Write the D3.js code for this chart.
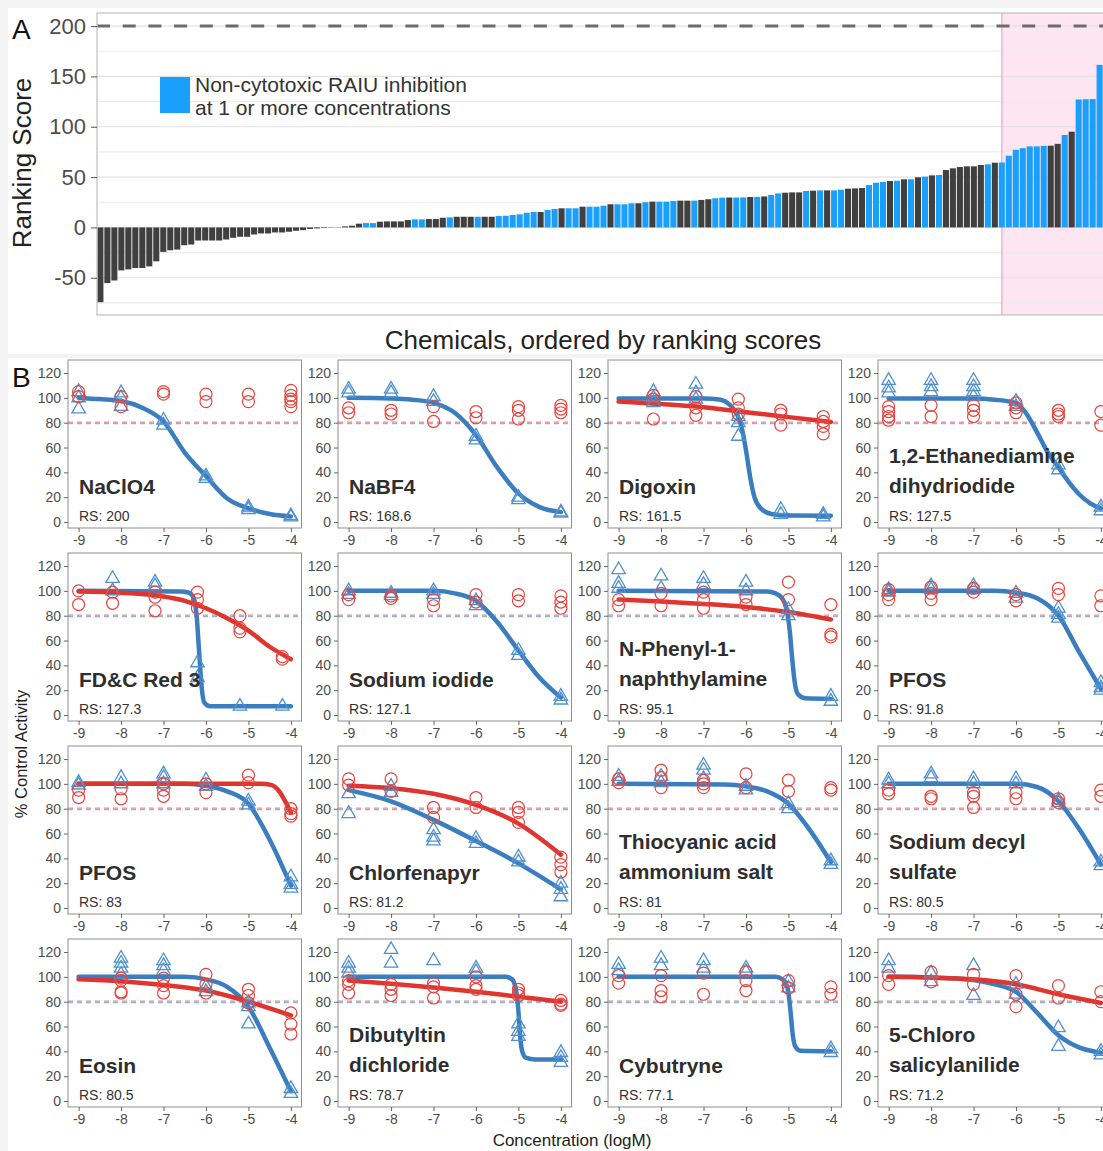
<!DOCTYPE html>
<html><head><meta charset="utf-8">
<script src="https://cdn.jsdelivr.net/npm/d3@7"></script>
<style>
html,body{margin:0;padding:0;background:#f3f3f3;}
svg{display:block;font-family:"Liberation Sans",Arial,sans-serif;}
</style></head><body>
<svg id="chart" width="1103" height="1151"></svg>
<script>
// ---------- Panel A data ----------
const barScores = [
  -74.3,-55.3,-52.7,-42.7,-41.7,-40.3,-40.3,-38.7,-33.7,-24.3,
  -22.7,-22,-17.7,-17,-13,-13,-13,-13,-12,-10.3,
  -9.3,-9.3,-7,-6,-6,-5,-5,-4.3,-3.3,-2.7,
  -1.5,-1,-0.6,-0.3,0.2,1,1.7,3.7,4.3,4.3,
  5.7,6,6,6,7.3,8,8,8.3,8.3,9.6,
  10,10.6,10.6,10.6,10.6,10.6,10.6,11.3,11.6,12.3,
  13,14.6,15.3,15.3,17.3,18.3,19,19,19,20.6,
  20.6,20.6,21.6,23,23,23,24,24,25,25.6,
  25.6,25.6,26.3,26.6,26.6,26.6,27.3,28,29,29.6,
  29.7,29.7,29.8,30.2,30.3,30.8,32.2,33.8,34.5,34.8,
  34.8,36.2,36.5,36.8,36.8,36.8,37.5,38.5,38.8,39.1,
  42.1,44.4,45.1,46.1,46.4,47.8,47.8,49.8,50.4,51.7,
  52.1,57,58.7,60,60.7,60.7,62,62.7,64.3,64.5,
  71.2,77.1,78.7,80.5,80.5,81,81.2,83,91.8,95.1,
  127.1,127.3,127.5,161.5,168.6,200
];
// 1 = non-cytotoxic RAIU inhibition at 1 or more concentrations
const barNonCytotoxic = [
  0,0,0,0,0,0,0,0,0,0,
  0,0,0,0,0,0,0,0,0,0,
  0,0,0,0,0,0,0,0,0,0,
  0,0,0,0,0,0,0,0,1,1,
  0,0,0,0,0,1,1,0,0,0,
  1,0,0,0,1,0,0,1,1,1,
  1,1,1,0,1,1,0,1,1,0,
  1,1,1,0,1,1,1,0,1,0,
  1,1,1,0,0,1,0,0,1,1,
  0,1,1,0,1,0,1,1,0,0,
  0,1,0,1,0,1,1,0,0,0,
  1,1,1,0,1,0,1,0,1,0,
  1,0,0,0,0,0,0,1,0,1,
  1,1,1,1,1,1,0,0,1,0,
  1,1,1,1,1,1
];
const scoreTicks = [-50, 0, 50, 100, 150, 200];
const scoreGrid = [-75,-50,-25,0,25,50,75,100,125,150,175,200];
const maxScoreLine = 200;
const highlightFromIndex = 129;
const legendLines = ["Non-cytotoxic RAIU inhibition", "at 1 or more concentrations"];

// ---------- Panel B data ----------
const panelNames = [
  ["NaClO4"], ["NaBF4"], ["Digoxin"], ["1,2-Ethanediamine","dihydriodide"],
  ["FD&C Red 3"], ["Sodium iodide"], ["N-Phenyl-1-","naphthylamine"], ["PFOS"],
  ["PFOS"], ["Chlorfenapyr"], ["Thiocyanic acid","ammonium salt"], ["Sodium decyl","sulfate"],
  ["Eosin"], ["Dibutyltin","dichloride"], ["Cybutryne"], ["5-Chloro","salicylanilide"]
];
const panelScores = ["200","168.6","161.5","127.5","127.3","127.1","95.1","91.8","83","81.2","81","80.5","80.5","78.7","77.1","71.2"];
const concTicks = [-9,-8,-7,-6,-5,-4];
const activityTicks = [0,20,40,60,80,100,120];
const thresholdValue = 80;

const raiuPoints = [
  [[-9,105],[-9,100],[-9,91],[-8,104],[-8,100],[-8,93],[-7,82],[-7,78],[-6,37],[-6,35],[-5,12],[-5,10],[-4,5],[-4,4]],
  [[-9,107],[-9,104],[-8,107],[-8,104],[-7,101],[-7,97],[-6,69],[-6,66],[-5,20],[-5,18],[-4,8],[-4,7]],
  [[-8.18,105],[-8.18,100],[-8.18,96],[-7.18,111],[-7.18,104],[-7.18,99],[-6.18,85],[-6.18,80],[-6.18,69],[-5.18,10],[-5.18,6],[-4.18,6],[-4.18,4]],
  [[-9,114],[-9,108],[-9,104],[-8,114],[-8,109],[-8,105],[-7,114],[-7,109],[-7,105],[-7,101],[-6,97],[-6,93],[-5,46],[-5,42],[-4,12],[-4,9]],
  [[-8.2,110],[-8.2,100],[-7.2,107],[-7.2,104],[-6.2,42],[-6.2,30],[-5.2,7],[-4.2,7]],
  [[-9,100],[-9,97],[-8,98],[-8,96],[-7,100],[-7,97],[-6,92],[-6,88],[-5,52],[-5,48],[-4,15],[-4,12]],
  [[-9,117],[-9,106],[-9,102],[-8,112],[-8,102],[-7,110],[-7,105],[-6,107],[-6,100],[-5,85],[-5,80],[-4,15],[-4,11]],
  [[-9,101],[-9,99],[-8,104],[-8,101],[-7,104],[-7,101],[-6,98],[-6,94],[-5,86],[-5,81],[-5,78],[-4,26],[-4,22],[-4,20]],
  [[-9,101],[-9,99],[-8,105],[-8,100],[-7,108],[-7,105],[-7,100],[-6,103],[-6,98],[-5,86],[-5,83],[-4,25],[-4,19],[-4,16]],
  [[-9,92],[-9,76],[-8,98],[-8,93],[-7,63],[-7,57],[-7,54],[-6,56],[-6,52],[-5,41],[-5,37],[-4,20],[-4,15],[-4,9]],
  [[-9,106],[-9,102],[-8,106],[-8,101],[-7,115],[-7,111],[-7,104],[-6,98],[-6,95],[-5,84],[-5,80],[-4,38],[-4,35]],
  [[-9,103],[-9,100],[-8,108],[-8,105],[-7,104],[-7,100],[-6,104],[-6,100],[-5,87],[-5,85],[-4,37],[-4,34]],
  [[-8,115],[-8,111],[-8,107],[-8,102],[-7,113],[-7,109],[-7,105],[-6,92],[-6,88],[-5,79],[-5,76],[-5,62],[-4,10],[-4,6]],
  [[-9,111],[-9,107],[-9,103],[-8,122],[-8,111],[-7,113],[-6,107],[-6,104],[-5,62],[-5,56],[-5,52],[-4,39],[-4,35],[-4,31]],
  [[-9,110],[-9,105],[-8,115],[-8,109],[-7,113],[-7,107],[-6,107],[-6,104],[-5,96],[-5,91],[-4,42],[-4,39]],
  [[-9,113],[-9,107],[-8,103],[-8,96],[-7,109],[-7,85],[-6,94],[-6,86],[-5,59],[-5,44],[-4,40],[-4,37]]
];
const cytoPoints = [
  [[-9,105],[-9,101],[-8,101],[-8,93],[-7,105],[-7,103],[-6,103],[-6,97],[-5,103],[-5,97],[-4,106],[-4,102],[-4,99],[-4,97],[-4,93]],
  [[-9,92],[-9,88],[-8,90],[-8,87],[-7,93],[-7,81],[-6,89],[-6,84],[-5,93],[-5,90],[-5,83],[-4,94],[-4,91],[-4,88]],
  [[-8.18,102],[-8.18,99],[-8.18,83],[-7.18,101],[-7.18,92],[-7.18,86],[-6.18,99],[-6.18,92],[-6.18,87],[-5.18,90],[-5.18,87],[-5.18,78],[-4.18,85],[-4.18,81],[-4.18,77],[-4.18,71]],
  [[-9,93],[-9,89],[-9,85],[-9,82],[-8,94],[-8,85],[-7,94],[-7,90],[-7,85],[-6,96],[-6,92],[-6,88],[-5,90],[-5,87],[-5,85],[-4,89],[-4,78]],
  [[-9,100],[-9,89],[-8.2,99],[-8.2,90],[-7.2,99],[-7.2,95],[-7.2,84],[-6.2,99],[-6.2,93],[-6.2,86],[-5.2,80],[-5.2,70],[-5.2,67],[-4.2,47],[-4.2,45]],
  [[-9,97],[-9,93],[-8,96],[-8,94],[-7,93],[-7,88],[-6,97],[-6,91],[-5,97],[-5,92],[-4,96],[-4,91],[-4,86]],
  [[-9,93],[-9,88],[-8,98],[-8,88],[-7,99],[-7,93],[-7,86],[-6,95],[-6,89],[-5,107],[-5,93],[-4,89],[-4,65],[-4,63]],
  [[-9,101],[-9,97],[-9,93],[-8,103],[-8,98],[-8,93],[-7,102],[-7,99],[-6,97],[-6,92],[-5,102],[-5,97],[-4,96],[-4,88]],
  [[-9,95],[-9,89],[-8,96],[-8,88],[-7,100],[-7,95],[-7,90],[-6,100],[-6,93],[-5,107],[-5,101],[-4,80],[-4,76],[-4,74]],
  [[-9,104],[-9,99],[-8,104],[-8,94],[-7,81],[-7,73],[-6,89],[-6,81],[-5,81],[-5,77],[-5,69],[-4,41],[-4,35],[-4,29]],
  [[-9,104],[-9,101],[-8,111],[-8,105],[-8,97],[-7,103],[-7,100],[-7,97],[-6,108],[-6,97],[-5,103],[-5,94],[-4,97],[-4,95]],
  [[-9,95],[-9,92],[-8,90],[-8,88],[-7,93],[-7,90],[-7,81],[-6,93],[-6,88],[-5,88],[-5,85],[-4,95],[-4,90]],
  [[-8,99],[-8,97],[-8,88],[-8,87],[-7,99],[-7,93],[-7,87],[-6,102],[-6,94],[-6,87],[-5,90],[-5,85],[-5,79],[-4,71],[-4,62],[-4,54]],
  [[-9,97],[-9,94],[-9,87],[-8,94],[-8,90],[-8,85],[-7,95],[-7,92],[-7,83],[-6,100],[-6,93],[-6,90],[-5,90],[-5,87],[-5,85],[-4,81],[-4,78],[-4,77]],
  [[-9,101],[-9,95],[-8,101],[-8,89],[-8,84],[-7,103],[-7,86],[-6,104],[-6,97],[-6,89],[-5,97],[-5,91],[-4,92],[-4,86]],
  [[-9,101],[-9,94],[-8,104],[-8,96],[-7,102],[-7,94],[-6,101],[-6,86],[-6,76],[-5,93],[-5,83],[-4,88],[-4,80]]
];
const raiuCurves = [
  [[-9,100],[-8.5,99],[-8,97.5],[-7.5,92],[-7,81],[-6.5,56],[-6,37],[-5.5,19],[-5,11],[-4.5,6.5],[-4,4.5]],
  [[-9,100],[-8,99.5],[-7.5,98.5],[-7,96],[-6.5,88],[-6,70],[-5.5,44],[-5,23],[-4.5,12],[-4,8]],
  [[-9,99.5],[-7,99.5],[-6.6,98.5],[-6.4,95],[-6.2,86],[-6.1,76],[-6,58],[-5.9,36],[-5.8,20],[-5.65,11],[-5.4,6.5],[-5,5.2],[-4,5]],
  [[-9,99.5],[-7,99.5],[-6.5,98.5],[-6,96],[-5.75,87],[-5.5,72],[-5.25,56],[-5,44],[-4.75,32],[-4.5,22],[-4.25,15],[-4,11]],
  [[-9,100],[-6.6,99.5],[-6.4,98.5],[-6.3,95],[-6.22,80],[-6.16,50],[-6.1,22],[-6.04,10],[-5.9,7],[-4,7]],
  [[-9,100],[-7,100],[-6.5,98],[-6,92],[-5.5,75],[-5,52],[-4.5,30],[-4,14]],
  [[-9,100],[-5.5,99.5],[-5.3,98],[-5.15,94],[-5.05,86],[-4.97,68],[-4.91,45],[-4.85,26],[-4.78,17],[-4.6,13.5],[-4,13]],
  [[-9,100],[-6.5,100],[-6,98.5],[-5.5,94],[-5,80],[-4.5,50],[-4,21]],
  [[-9,100],[-6.5,100],[-6,98.5],[-5.5,94],[-5,84],[-4.5,55],[-4,18]],
  [[-9,95],[-8,86],[-7,71],[-6,54],[-5,36],[-4,15]],
  [[-9,100],[-6.5,99.5],[-6,98],[-5.5,94],[-5,84],[-4.5,63],[-4,37]],
  [[-9,100],[-6,100],[-5.5,97.5],[-5,86],[-4.5,63],[-4,35]],
  [[-9,100],[-6.5,100],[-6,98],[-5.5,92],[-5,76],[-4.5,43],[-4,8]],
  [[-9,100],[-5.3,100],[-5.15,98],[-5.06,90],[-5.0,72],[-4.96,52],[-4.91,40],[-4.83,35],[-4.6,33.5],[-4,33.5]],
  [[-9,100],[-5.3,100],[-5.12,97.5],[-5.02,91],[-4.95,72],[-4.9,54],[-4.84,44],[-4.72,40.5],[-4,40]],
  [[-9,100],[-8,99.5],[-7,97.5],[-6.5,94],[-6,88],[-5.5,71],[-5,53],[-4.5,43],[-4,39]]
];
const cytoCurves = [
  null,
  null,
  [[-9,97],[-8,95],[-7,92.5],[-6,88.5],[-5,84.5],[-4,80.5]],
  null,
  [[-9,99.5],[-8,98.5],[-7,95.5],[-6.5,92],[-6,86],[-5.5,78],[-5,68],[-4.5,55],[-4,45]],
  null,
  [[-9,93],[-8,91.5],[-7,89.5],[-6,87],[-5,83],[-4,77]],
  null,
  [[-9,100],[-4.7,100],[-4.45,99],[-4.3,95],[-4.15,87],[-4,77]],
  [[-9,98.5],[-8,96.5],[-7,92],[-6,83],[-5,68],[-4,43]],
  null,
  null,
  [[-9,98],[-8,96.5],[-7,93.5],[-6,89],[-5,80],[-4,69]],
  [[-9,97],[-8,94.5],[-7,91.5],[-6,88],[-5,84],[-4,80]],
  null,
  [[-9,100],[-8,99.5],[-7,98],[-6,94],[-5,86],[-4,79]]
];

// ---------- colours ----------
const C = {
  dark: "#404040", blue: "#1a9ffd", pink: "#fde6f1", pinkLine: "#f6b4c8",
  frame: "#c3c3c3", tickText: "#4d4d4d",
  raiuLine: "#3b7ec0", raiuPt: "#4f91d0", cytoLine: "#e0352f", cytoPt: "#e8453f"
};
const fmtTick = d => String(d);

const svg = d3.select("#chart");
const W = 1103, H = 1151;

// backgrounds
svg.append("rect").attr("x",0).attr("y",0).attr("width",W).attr("height",H).attr("fill","#f3f3f3");
svg.append("rect").attr("x",8).attr("y",8).attr("width",W).attr("height",346).attr("fill","#fff");
svg.append("rect").attr("x",8).attr("y",358).attr("width",W).attr("height",H).attr("fill","#fff");

// ================= Panel A =================
const aLeft = 97, aRight = 1117, aTop = 13, aBottom = 315;
const xA = d3.scaleBand().domain(d3.range(barScores.length)).range([aLeft, aRight]).paddingInner(0.13).paddingOuter(0.05);
const yA = d3.scaleLinear().domain([-87, 213]).range([aBottom, aTop]);

svg.append("clipPath").attr("id","clipA").append("rect")
  .attr("x",aLeft).attr("y",aTop).attr("width",aRight-aLeft).attr("height",aBottom-aTop);
const gA = svg.append("g").attr("clip-path","url(#clipA)");

// highlight region
const hx = xA(highlightFromIndex) + xA.bandwidth()/2;
gA.append("rect").attr("x",hx).attr("y",aTop).attr("width",aRight-hx).attr("height",aBottom-aTop).attr("fill",C.pink);

// grid
gA.selectAll("line.grid").data(scoreGrid).join("line")
  .attr("x1",aLeft).attr("x2",aRight)
  .attr("y1",d=>yA(d)).attr("y2",d=>yA(d))
  .attr("stroke",d=> d%50===0 ? "#e2e2e2" : "#ececec").attr("stroke-width",1.1);

gA.append("line").attr("x1",hx).attr("x2",hx).attr("y1",aTop).attr("y2",aBottom).attr("stroke",C.pinkLine).attr("stroke-width",1.5);

// bars
gA.selectAll("rect.bar").data(barScores).join("rect")
  .attr("x",(d,i)=>xA(i)).attr("width",xA.bandwidth())
  .attr("y",d=>yA(Math.max(0,d))).attr("height",d=>Math.abs(yA(d)-yA(0)))
  .attr("fill",(d,i)=>barNonCytotoxic[i] ? C.blue : C.dark);

// max line
gA.append("line").attr("x1",aLeft).attr("x2",aRight).attr("y1",yA(maxScoreLine)).attr("y2",yA(maxScoreLine))
  .attr("stroke","#6c6c6c").attr("stroke-width",3).attr("stroke-dasharray","13,12.7");

// frame
svg.append("rect").attr("x",aLeft).attr("y",aTop).attr("width",aRight-aLeft).attr("height",aBottom-aTop)
  .attr("fill","none").attr("stroke",C.frame).attr("stroke-width",1.3);

// axis
const axA = svg.append("g").attr("transform",`translate(${aLeft},0)`)
  .call(d3.axisLeft(yA).tickValues(scoreTicks).tickFormat(fmtTick).tickSize(6).tickPadding(5));
axA.select(".domain").remove();
axA.selectAll(".tick line").attr("stroke","#555");
axA.selectAll(".tick text").attr("font-size",22).attr("fill",C.tickText).attr("font-family","Liberation Sans, Arial, sans-serif");

// legend
svg.append("rect").attr("x",160).attr("y",77).attr("width",30).attr("height",36).attr("fill",C.blue);
svg.selectAll("text.leg").data(legendLines).join("text")
  .attr("x",195).attr("y",(d,i)=>92+i*23).attr("font-size",21).attr("fill","#333").text(d=>d);

// titles
svg.append("text").attr("x",12).attr("y",39).attr("font-size",28).attr("fill","#111").text("A");
svg.append("text").attr("transform","translate(31,163) rotate(-90)").attr("text-anchor","middle")
  .attr("font-size",26).attr("fill","#222").text("Ranking Score");
svg.append("text").attr("x",603).attr("y",349).attr("text-anchor","middle").attr("font-size",26).attr("fill","#222")
  .text("Chemicals, ordered by ranking scores");

// ================= Panel B =================
svg.append("text").attr("x",12).attr("y",387).attr("font-size",28).attr("fill","#111").text("B");

const pW = 233.5, pH = 168;
const sym = d3.symbol().type(d3.symbolTriangle).size(78);

panelNames.forEach((names, i) => {
  const r = Math.floor(i/4), c = i % 4;
  const left = 68 + 270*c, top = 360 + 193*r;
  const x = d3.scaleLinear().domain([-9.25,-3.75]).range([left, left+pW]);
  const y = d3.scaleLinear().domain([-4.8,130.5]).range([top+pH, top]);
  const g = svg.append("g");
  g.append("rect").attr("x",left).attr("y",top).attr("width",pW).attr("height",pH).attr("fill","#fff");

  const cid = "clipP"+i;
  svg.append("clipPath").attr("id",cid).append("rect").attr("x",left).attr("y",top).attr("width",pW).attr("height",pH);
  const inner = g.append("g").attr("clip-path",`url(#${cid})`);

  // thresholds
  inner.append("line").attr("x1",left).attr("x2",left+pW).attr("y1",y(thresholdValue)+0.8).attr("y2",y(thresholdValue)+0.8)
    .attr("stroke","#8fb2de").attr("stroke-width",1.6).attr("stroke-dasharray","5,4");
  inner.append("line").attr("x1",left).attr("x2",left+pW).attr("y1",y(thresholdValue)-0.6).attr("y2",y(thresholdValue)-0.6)
    .attr("stroke","#f08a8a").attr("stroke-width",1.4).attr("stroke-dasharray","5,4");

  const line = d3.line().x(d=>x(d[0])).y(d=>y(d[1])).curve(d3.curveMonotoneX);
  inner.append("path").datum(raiuCurves[i]).attr("d",line).attr("fill","none")
    .attr("stroke",C.raiuLine).attr("stroke-width",4.5).attr("stroke-linecap","round").attr("stroke-linejoin","round");
  if (cytoCurves[i]) {
    inner.append("path").datum(cytoCurves[i]).attr("d",line).attr("fill","none")
      .attr("stroke",C.cytoLine).attr("stroke-width",4.5).attr("stroke-linecap","round").attr("stroke-linejoin","round");
  }

  inner.selectAll("path.tri").data(raiuPoints[i]).join("path")
    .attr("d",sym).attr("transform",d=>`translate(${x(d[0])},${y(d[1])})`)
    .attr("fill","none").attr("stroke",C.raiuPt).attr("stroke-width",1.3);
  inner.selectAll("circle.cyto").data(cytoPoints[i]).join("circle")
    .attr("cx",d=>x(d[0])).attr("cy",d=>y(d[1])).attr("r",6)
    .attr("fill","none").attr("stroke",C.cytoPt).attr("stroke-width",1.2);

  g.append("rect").attr("x",left).attr("y",top).attr("width",pW).attr("height",pH)
    .attr("fill","none").attr("stroke","#8e8e8e").attr("stroke-width",1);

  const ay = g.append("g").attr("transform",`translate(${left},0)`)
    .call(d3.axisLeft(y).tickValues(activityTicks).tickFormat(fmtTick).tickSize(4).tickPadding(3));
  const ax = g.append("g").attr("transform",`translate(0,${top+pH})`)
    .call(d3.axisBottom(x).tickValues(concTicks).tickFormat(fmtTick).tickSize(4).tickPadding(3));
  [ay, ax].forEach(a => {
    a.select(".domain").remove();
    a.selectAll(".tick line").attr("stroke","#666");
    a.selectAll(".tick text").attr("font-size",14).attr("fill",C.tickText).attr("font-family","Liberation Sans, Arial, sans-serif");
  });

  // labels
  const baseY = names.length === 1 ? [top+134] : [top+103, top+133];
  names.forEach((nm, k) => {
    g.append("text").attr("x",left+11).attr("y",baseY[k]).attr("font-size",21).attr("font-weight","bold")
      .attr("fill","#2e2e2e").text(nm);
  });
  g.append("text").attr("x",left+11).attr("y",top+161).attr("font-size",14).attr("fill","#333").text("RS: " + panelScores[i]);
});

svg.append("text").attr("transform","translate(27,754) rotate(-90)").attr("text-anchor","middle")
  .attr("font-size",16.5).attr("fill","#222").text("% Control Activity");
svg.append("text").attr("x",572).attr("y",1146).attr("text-anchor","middle")
  .attr("font-size",17).attr("fill","#222").text("Concentration (logM)");
</script>
</body></html>
